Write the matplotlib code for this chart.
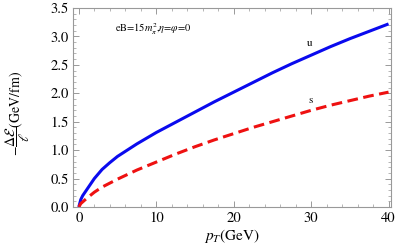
import matplotlib
matplotlib.use("Agg")
import matplotlib.pyplot as plt
import numpy as np
from matplotlib.ticker import MultipleLocator

plt.rcParams['font.family'] = ['STIXGeneral', 'DejaVu Serif']
plt.rcParams['mathtext.fontset'] = 'stix'

# values
pt = [0, 0.25, 0.5, 1, 2, 3, 4, 5, 7.5, 10, 12.5, 15, 17.5, 20, 22.5, 25, 27.5, 30, 32.5, 35, 37.5, 40]
u_loss = [0, 0.13, 0.20, 0.30, 0.50, 0.66, 0.78, 0.89, 1.11, 1.31, 1.49, 1.67, 1.85, 2.02, 2.19, 2.36, 2.52, 2.67, 2.82, 2.96, 3.09, 3.22]
s_loss = [0, 0.06, 0.09, 0.15, 0.26, 0.35, 0.42, 0.49, 0.65, 0.79, 0.93, 1.06, 1.18, 1.29, 1.40, 1.50, 1.60, 1.70, 1.79, 1.87, 1.95, 2.02]

fig = plt.figure(figsize=(3.96, 2.5), dpi=100)
ax = fig.add_axes([0.184, 0.172, 0.803, 0.796])

ax.plot(pt, u_loss, color='#0a0aee', lw=2.2, solid_capstyle='butt')
ax.plot(pt, s_loss, color='#ee1111', lw=2.2, ls=(0, (3.5, 1.8)))

ax.set_xlim(-0.77, 40.3)
ax.set_ylim(0, 3.5)
ax.xaxis.set_major_locator(MultipleLocator(10))
ax.xaxis.set_minor_locator(MultipleLocator(2))
ax.yaxis.set_major_locator(MultipleLocator(0.5))
ax.yaxis.set_minor_locator(MultipleLocator(0.1))
ax.yaxis.set_major_formatter(matplotlib.ticker.FormatStrFormatter('%.1f'))

for s in ax.spines.values():
    s.set_color('#999999')
    s.set_linewidth(0.8)
ax.tick_params(which='both', direction='in', top=True, right=True, color='#999999', labelsize=10.5, pad=3)
ax.tick_params(which='major', length=4, width=0.7)
ax.tick_params(which='minor', length=2, width=0.5)

ax.text(4.65, 3.08, r'eB=15$m_\pi^2$,$\eta$=$\varphi$=0', fontsize=7.5)
ax.text(29.5, 2.83, 'u', fontsize=8)
ax.text(29.6, 1.83, 's', fontsize=8)

ax.set_xlabel(r'$p_T$(GeV)', fontsize=11, labelpad=2)
ax.set_ylabel(r'$-\dfrac{\Delta\mathcal{E}}{\ell}$(GeV/fm)', fontsize=10, labelpad=2)
ax.yaxis.set_label_coords(-0.13, 0.47)

fig.savefig('out.png', dpi=100)
